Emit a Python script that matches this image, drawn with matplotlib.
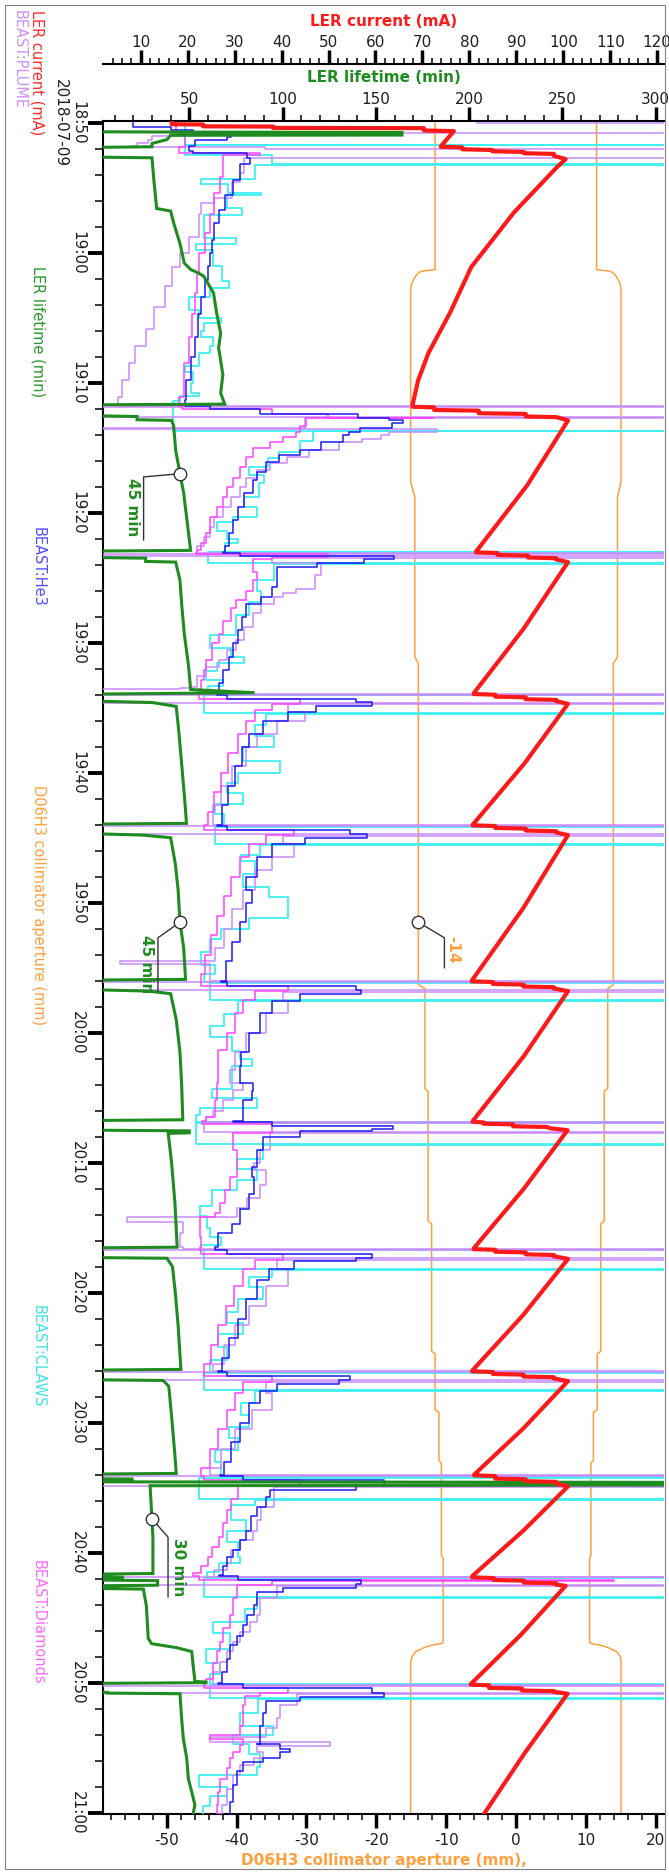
import matplotlib
matplotlib.use("Agg")
import matplotlib.pyplot as plt
from matplotlib.ticker import MultipleLocator
from matplotlib.patches import Rectangle

plt.rcParams['font.family'] = ['DejaVu Sans']
plt.rcParams['axes.unicode_minus'] = False

# ------------------------------------------------------------------
# Time axis: minutes after 18:50 on 2018-07-09
# ------------------------------------------------------------------
time_ticks = [0, 10, 20, 30, 40, 50, 60, 70, 80, 90, 100, 110, 120, 130]
time_labels = ["18:50\n2018-07-09", "19:00", "19:10", "19:20", "19:30", "19:40",
               "19:50", "20:00", "20:10", "20:20", "20:30", "20:40", "20:50", "21:00"]

# LER beam current (mA): (minute, mA)
ler_current = [
    (0.00, 16.6), (0.12, 16.6), (0.14, 23.3), (0.28, 23.3), (0.30, 38.2), (0.40, 38.2),
    (0.42, 70.3), (0.60, 70.3), (0.65, 76.7), (1.70, 74.2), (1.85, 73.9), (1.90, 78.5),
    (2.05, 78.5), (2.10, 84.9), (2.20, 84.9), (2.25, 91.6), (2.35, 91.6), (2.40, 98.0),
    (2.55, 98.0), (2.80, 100.5), (3.40, 98.7), (6.90, 89.5), (11.10, 80.4), (14.60, 75.9),
    (17.70, 71.3), (19.80, 69.1), (21.70, 67.9),
    (21.85, 67.9), (21.90, 72.5), (22.10, 72.5), (22.15, 82.0), (22.35, 82.0), (22.40, 92.0),
    (22.60, 92.0), (22.65, 98.5), (22.90, 101.0), (27.90, 92.3), (33.00, 81.4),
    (33.05, 81.4), (33.10, 86.0), (33.25, 86.0), (33.30, 92.5), (33.45, 92.5), (33.50, 98.5),
    (33.60, 98.5), (33.80, 101.0), (38.90, 91.6), (43.90, 80.9),
    (43.95, 80.9), (44.00, 85.5), (44.15, 85.5), (44.20, 92.0), (44.35, 92.0), (44.40, 98.5),
    (44.50, 98.5), (44.70, 101.0), (49.30, 91.7), (54.00, 80.7),
    (54.05, 80.7), (54.10, 85.5), (54.25, 85.5), (54.30, 92.0), (54.45, 92.0), (54.50, 98.5),
    (54.60, 98.5), (54.80, 101.0), (60.40, 91.5), (66.00, 80.5),
    (66.05, 80.5), (66.10, 85.0), (66.25, 85.0), (66.30, 91.5), (66.45, 91.5), (66.50, 98.0),
    (66.60, 98.0), (66.80, 101.0), (71.80, 91.6), (76.80, 80.7),
    (76.85, 80.7), (76.90, 83.0), (77.00, 83.0), (77.05, 89.3), (77.20, 89.3), (77.25, 96.5),
    (77.35, 97.2), (77.50, 100.9), (82.00, 91.6), (86.60, 80.9),
    (86.65, 80.9), (86.70, 85.5), (86.85, 85.5), (86.90, 92.0), (87.05, 92.0), (87.10, 98.0),
    (87.20, 98.0), (87.40, 101.0), (91.70, 91.5), (96.00, 80.6),
    (96.05, 80.6), (96.10, 85.0), (96.25, 85.0), (96.30, 91.5), (96.45, 91.5), (96.50, 98.0),
    (96.60, 98.0), (96.80, 101.0), (100.40, 91.6), (104.00, 81.0),
    (104.05, 81.0), (104.10, 85.5), (104.30, 85.5), (104.35, 92.0), (104.50, 92.0), (104.55, 98.5),
    (104.70, 98.5), (104.90, 101.0), (108.30, 91.5), (111.80, 80.6),
    (111.90, 80.6), (111.95, 85.2), (112.10, 85.2), (112.15, 91.6), (112.30, 91.6), (112.35, 98.4),
    (112.45, 98.4), (112.55, 100.5), (116.30, 91.0), (120.10, 80.3),
    (120.15, 80.3), (120.20, 84.2), (120.40, 84.2), (120.45, 91.2), (120.60, 91.2), (120.65, 98.0),
    (120.70, 98.0), (120.85, 100.9), (125.40, 91.8), (130.10, 83.1),
]

# LER beam lifetime (min): (minute, min)
ler_lifetime = [
    (0.0, 0), (0.7, 0), (0.72, 43), (0.75, 164), (0.95, 164), (0.97, 40), (1.3, 38), (1.6, 30),
    (1.85, 30), (1.9, 0), (2.65, 0), (2.7, 30), (4.4, 31), (6.6, 32.5), (6.8, 40), (7.7, 41.6),
    (9.3, 45), (10.8, 47.3), (11.3, 50.8), (11.5, 54), (11.8, 57.7), (13.1, 63), (14.6, 64.6),
    (16.2, 66.8), (17.3, 65.7), (19.4, 68), (20.8, 66.8), (21.65, 69), (21.7, 0),
    (22.55, 0), (22.6, 22), (22.85, 22), (22.9, 40.5), (23.3, 41.6), (25.2, 42.7), (27.0, 45),
    (28.5, 47), (30.3, 48.5), (31.6, 49.6), (32.9, 50.7), (32.95, 0),
    (33.45, 0), (33.5, 26.6), (33.75, 26.6), (33.8, 42.7), (35.2, 45), (37.2, 46), (39.3, 47.3),
    (41.8, 49.6), (43.6, 50.7), (43.85, 85), (43.95, 0),
    (44.5, 0), (44.6, 30), (44.9, 43), (47.0, 44.5), (49.5, 46), (52.0, 47.5), (53.9, 48.5), (53.95, 0),
    (54.7, 0), (54.8, 25), (55.0, 40), (57.0, 42.5), (59.0, 44), (61.5, 45), (63.5, 47), (65.9, 48), (65.95, 0),
    (66.7, 0), (66.8, 28), (67.0, 40), (69.0, 43), (71.5, 45), (74.0, 45.9), (76.5, 46.5), (76.7, 46.5), (76.75, 0),
    (77.5, 0), (77.55, 50), (77.7, 50), (77.75, 38.7), (80.0, 40.5), (83.1, 42.3), (85.7, 43.2), (86.5, 43.5), (86.55, 0),
    (87.3, 0), (87.35, 38), (88.0, 41), (90.0, 42.5), (92.5, 44), (95.9, 45.5), (95.95, 0),
    (96.7, 0), (96.75, 36), (97.2, 39), (99.5, 40.5), (102.0, 42), (103.9, 43), (103.95, 0),
    (104.3, 0), (104.35, 20), (104.4, 0), (104.55, 0), (104.6, 400), (104.78, 400), (104.85, 29),
    (107.4, 30), (108.8, 30.5), (111.6, 30.5), (111.65, 0),
    (111.85, 0), (111.9, 15), (111.95, 0), (112.1, 0), (112.15, 33), (112.5, 33), (112.55, 0),
    (112.75, 0), (112.8, 25.4), (114.1, 27), (116.6, 28), (117.0, 29.8), (117.3, 43), (117.6, 51.3),
    (118.6, 52), (119.9, 53), (119.95, 59), (120.0, 59), (120.05, 0),
    (120.7, 0), (120.75, 6), (120.8, 6), (120.85, 45), (122.8, 45.9), (124.3, 46.8), (125.8, 48.6),
    (127.4, 49.5), (128.4, 51.3), (129.4, 53), (130.1, 52),
]

# D06H3 collimator jaw positions (mm): (minute, mm)
jaw_inner = [
    (-0.2, -11.6), (11.1, -11.6), (11.3, -11.6), (11.4, -13.2), (11.5, -13.9), (11.8, -14.4),
    (12.35, -14.95), (12.9, -15.1), (27.6, -15.1), (28.8, -14.5), (41.1, -14.5), (41.6, -14.0),
    (66.3, -14.0), (66.6, -13.05), (74.3, -13.05), (74.5, -12.6), (84.5, -12.6), (84.7, -12.1),
    (94.5, -12.1), (94.7, -11.6), (99.0, -11.6), (99.2, -11.05), (102.9, -11.05), (103.1, -10.7),
    (110.2, -10.7), (110.4, -10.45), (116.9, -10.45), (117.0, -10.8), (117.1, -12.0), (117.3, -13.2),
    (117.5, -13.9), (117.6, -14.4), (118.0, -14.9), (118.4, -15.1), (130.3, -15.1),
]
jaw_outer = [
    (-0.2, 11.5), (11.1, 11.5), (11.3, 11.5), (11.4, 13.1), (11.5, 13.8), (11.8, 14.3),
    (12.35, 14.85), (12.9, 15.0), (27.6, 15.0), (28.8, 14.5), (41.1, 14.5), (41.6, 13.9),
    (66.3, 13.9), (66.6, 13.1), (74.3, 13.1), (74.5, 12.6), (84.5, 12.6), (84.7, 12.1),
    (94.5, 12.1), (94.7, 11.6), (99.0, 11.6), (99.2, 11.05), (102.9, 11.05), (103.1, 10.7),
    (110.2, 10.7), (110.4, 10.5), (116.9, 10.5), (117.0, 10.8), (117.1, 12.0), (117.3, 13.2),
    (117.5, 13.9), (117.6, 14.4), (118.0, 14.9), (118.4, 15.0), (130.3, 15.0),
]

# BEAST detector rates, arbitrary units (0-100 full scale): (minute, level from that minute on)
beast_he3 = [
    (0.0, 5.3), (0.3, 12.0), (0.6, 16.0), (0.8, 22.8), (1.1, 22.0), (1.3, 16.4), (1.8, 15.2), (2.2, 16.0),
    (2.3, 25.6), (2.7, 26.2), (3.2, 24.4), (4.4, 23.2), (5.6, 21.7), (6.7, 20.6), (7.7, 19.8), (9.0, 19.4),
    (10.0, 19.0), (11.0, 18.7), (12.1, 18.1), (13.4, 17.5), (14.7, 16.9), (16.5, 16.4), (18.0, 15.6),
    (19.8, 14.8), (21.3, 14.6),
    (21.8, 19.0), (22.0, 28.0), (22.4, 45.4), (22.7, 51.0), (22.9, 53.5), (23.1, 51.5), (23.5, 45.8),
    (23.8, 43.8), (24.0, 42.8), (24.6, 38.8), (25.2, 35.1), (25.6, 31.3), (26.1, 29.0), (26.9, 27.4),
    (27.5, 26.7), (28.5, 25.1), (29.6, 24.0), (30.6, 23.2), (31.6, 22.4), (32.6, 21.7), (33.0, 21.3),
    (33.1, 24.4), (33.3, 51.8), (33.6, 46.5), (33.9, 38.2), (34.2, 30.9), (35.7, 30.1), (36.5, 28.2),
    (37.0, 25.5), (38.0, 24.8), (39.0, 24.0), (40.0, 23.2), (41.1, 22.4), (42.1, 21.3), (43.1, 20.6), (43.8, 20.2),
    (44.0, 22.0), (44.3, 45.0), (44.6, 48.0), (44.9, 38.0), (45.3, 33.0), (46.0, 28.5), (47.0, 26.0),
    (48.0, 24.8), (49.5, 23.5), (51.0, 22.3), (52.5, 21.2), (54.0, 20.3),
    (54.1, 22.0), (54.4, 44.0), (54.7, 47.0), (55.0, 36.0), (55.5, 30.0), (56.5, 27.5), (58.0, 25.5),
    (59.0, 26.5), (60.0, 25.5), (61.5, 24.3), (63.0, 23.0), (64.5, 21.8), (66.0, 21.0),
    (66.1, 22.0), (66.4, 45.0), (66.7, 46.0), (67.0, 35.0), (67.6, 30.0), (68.5, 28.0), (70.0, 26.0),
    (71.5, 24.6), (72.6, 24.4), (73.9, 26.7), (74.5, 26.5), (75.2, 25.0), (76.8, 23.2),
    (76.9, 30.0), (77.2, 51.7), (77.4, 48.0), (77.6, 35.0), (78.0, 28.5), (79.0, 27.4), (80.3, 26.5),
    (81.1, 26.8), (82.4, 25.9), (83.6, 24.4), (84.7, 22.9), (85.4, 20.5), (86.5, 19.9),
    (86.7, 22.0), (87.0, 48.0), (87.3, 45.0), (87.6, 34.0), (88.2, 29.5), (89.0, 27.5), (90.5, 25.5),
    (92.0, 24.0), (93.5, 22.5), (95.0, 21.2), (96.0, 20.5),
    (96.1, 22.0), (96.4, 44.0), (96.7, 42.0), (97.0, 31.0), (97.6, 28.0), (98.5, 26.0), (100.0, 24.3),
    (101.5, 22.8), (103.0, 21.5), (104.0, 20.8),
    (104.1, 25.0), (104.4, 50.0), (104.8, 45.0), (105.2, 29.7), (105.7, 29.0), (106.5, 27.4), (107.2, 26.3),
    (108.3, 25.5), (109.0, 24.4), (109.8, 23.2), (110.3, 22.1), (111.0, 21.3), (111.7, 20.6),
    (111.8, 24.0), (112.1, 46.0), (112.4, 45.0), (112.7, 32.0), (113.0, 27.4), (114.0, 26.8), (114.8, 25.6),
    (115.6, 25.0), (116.4, 23.8), (117.1, 22.6), (118.2, 22.0), (119.2, 21.1), (120.0, 20.5),
    (120.1, 25.0), (120.4, 48.0), (120.8, 50.0), (121.1, 35.0), (121.4, 29.1), (122.3, 28.5), (123.3, 27.9),
    (124.7, 27.4), (124.75, 31.5), (125.1, 33.3), (125.3, 31.5), (125.8, 28.5), (126.1, 25.0), (126.8, 23.8),
    (127.9, 23.2), (129.2, 22.6), (130.1, 22.9),
]

beast_diamonds = [
    (0.0, 13.0), (0.8, 14.6), (1.9, 13.5), (2.3, 28.0), (2.45, 21.3), (4.2, 20.9), (5.4, 19.8), (7.0, 19.0),
    (8.5, 18.1), (10.0, 17.1), (11.6, 16.7), (13.1, 16.4), (14.7, 15.8), (16.5, 15.2), (18.5, 14.4),
    (21.1, 13.5), (21.7, 13.3),
    (21.8, 14.0), (22.0, 30.0), (22.4, 40.0), (22.7, 58.8), (22.75, 36.2), (23.3, 35.0), (23.8, 34.3),
    (24.2, 32.0), (24.6, 29.7), (25.0, 26.7), (25.7, 25.5), (26.5, 24.4), (27.3, 23.2), (28.0, 22.1),
    (28.8, 21.3), (29.6, 20.2), (30.3, 19.0), (31.6, 18.3), (32.3, 17.5), (32.9, 16.7),
    (33.0, 16.5), (33.2, 40.0), (33.4, 30.0), (33.6, 26.7), (34.6, 27.4), (35.2, 26.7), (36.0, 25.5),
    (36.7, 23.6), (37.3, 22.8), (38.3, 21.3), (39.3, 20.6), (40.0, 19.4), (41.3, 18.3), (42.1, 17.9),
    (42.9, 17.5), (43.6, 17.1),
    (44.0, 17.0), (44.3, 35.0), (44.7, 30.0), (45.2, 27.0), (46.0, 25.5), (47.0, 24.0), (48.5, 22.3),
    (50.0, 21.0), (51.5, 19.8), (53.0, 18.6), (54.0, 18.0),
    (54.4, 34.0), (54.8, 29.0), (55.5, 26.0), (56.5, 24.3), (58.0, 22.7), (59.5, 21.5), (61.0, 20.3),
    (62.5, 19.2), (64.0, 18.2), (65.5, 17.4),
    (66.1, 17.5), (66.4, 33.0), (66.8, 27.0), (67.5, 25.0), (68.5, 23.5), (70.0, 22.0), (71.3, 20.5),
    (73.9, 20.2), (75.2, 19.9), (76.5, 18.4), (76.8, 17.6),
    (77.0, 30.0), (77.7, 23.2), (79.0, 23.8), (81.1, 22.6), (82.1, 21.7), (83.1, 20.8), (83.9, 19.9),
    (84.2, 17.2), (85.7, 17.5), (86.5, 17.2),
    (86.7, 17.5), (87.0, 32.0), (87.5, 27.0), (88.2, 25.0), (89.5, 23.3), (91.0, 21.8), (92.5, 20.5),
    (94.0, 19.2), (95.5, 18.0),
    (96.4, 30.0), (96.9, 25.0), (97.7, 23.5), (99.0, 22.0), (100.5, 20.5), (102.0, 19.0), (103.5, 17.5),
    (104.1, 18.0), (104.4, 35.0), (104.9, 24.0), (105.9, 22.8), (106.7, 22.1), (107.7, 21.3), (108.8, 20.6),
    (109.6, 19.4), (110.3, 18.7), (111.0, 17.5), (111.6, 16.0),
    (111.8, 17.0), (112.1, 91.0), (112.2, 30.0), (112.5, 23.8), (113.5, 23.2), (114.8, 22.6), (115.8, 21.4),
    (116.9, 20.8), (117.6, 20.2), (118.5, 19.6), (119.7, 18.4),
    (120.1, 18.0), (120.4, 33.0), (120.8, 28.0), (121.0, 25.3), (121.7, 25.0), (123.3, 24.4), (124.0, 19.0),
    (124.3, 25.0), (124.8, 24.4), (125.3, 23.2), (125.8, 22.6), (126.6, 22.0), (127.4, 20.8), (128.4, 20.5),
    (129.4, 20.2), (130.1, 20.8),
]

beast_plume = [
    (0.0, 66.6), (0.02, 200), (0.77, 14.6), (1.0, 8.6), (1.3, 8.0), (1.6, 6.0), (1.8, 5.4), (1.85, 28.8),
    (2.0, 200), (2.75, 25.1), (3.9, 24.4), (4.6, 22.9), (5.8, 19.7), (6.2, 17.5), (7.0, 17.1), (8.8, 15.2),
    (10.0, 13.7), (11.1, 12.2), (12.6, 11.0), (14.2, 9.1), (15.9, 7.6), (17.2, 5.7), (18.5, 4.5),
    (19.8, 3.3), (21.1, 2.6),
    (21.8, 200), (21.85, -5), (22.65, 200), (22.7, 36.0), (23.45, -5), (23.55, 59.5), (23.8, 51.0),
    (24.0, 49.6), (24.3, 46.1), (24.6, 42.0), (25.2, 36.6), (25.7, 32.8), (26.2, 29.7), (26.7, 27.4),
    (27.3, 25.5), (28.0, 24.4), (28.8, 22.8), (29.6, 21.3), (30.3, 19.8), (31.1, 19.0), (31.9, 17.9), (32.6, 16.7),
    (33.1, 200), (33.15, -5), (33.35, 200), (33.45, 30.0), (33.9, 38.8), (34.8, 37.8), (35.9, 34.3),
    (36.2, 32.0), (36.5, 30.4), (37.0, 28.2), (37.7, 26.7), (38.8, 25.1), (39.8, 23.6), (40.6, 22.1),
    (41.3, 20.6), (41.9, 18.3), (42.6, 16.7), (43.4, 15.2), (43.5, 13.7), (43.55, -5),
    (43.95, 200), (44.0, -5), (44.65, 200), (44.75, 33.0), (45.3, 36.0), (46.0, 31.0), (47.0, 27.5),
    (48.0, 25.5), (49.5, 23.0), (51.0, 21.0), (52.5, 19.5),
    (54.05, 200), (54.1, -5), (54.75, 200), (54.85, 32.0), (55.5, 34.0), (56.5, 30.0), (57.5, 27.0),
    (59.0, 25.0), (60.5, 23.0), (62.0, 21.5), (63.5, 20.0), (64.45, 3.0), (64.75, 19.0),
    (66.05, 200), (66.1, -5), (66.75, 200), (66.85, 32.0), (67.5, 33.0), (68.5, 29.0), (70.0, 25.5),
    (71.5, 23.5), (72.9, 22.6), (73.9, 25.0), (74.4, 23.1), (75.2, 21.4), (76.0, 19.6), (76.5, 18.4),
    (76.85, 200), (76.95, 18.0), (77.65, 200), (77.75, 29.7), (79.0, 27.9), (80.0, 26.8), (80.6, 29.1),
    (81.7, 27.9), (82.7, 25.6), (83.5, 23.8), (84.2, 4.2), (84.6, 14.3), (85.4, 13.7), (86.5, 14.3),
    (86.65, 200), (86.7, -5), (87.35, 200), (87.45, 31.0), (88.2, 33.0), (89.5, 29.0), (91.0, 26.0),
    (92.5, 23.5), (94.0, 21.5), (95.5, 19.5),
    (96.05, 200), (96.1, -5), (96.75, 200), (96.85, 29.0), (97.7, 30.0), (99.0, 26.5), (100.5, 23.5),
    (102.0, 21.0), (103.5, 19.0),
    (104.05, 200), (104.1, -5), (104.85, 200), (104.95, 30.4), (106.5, 28.2), (107.5, 27.4), (108.3, 26.7),
    (109.0, 24.4), (109.8, 22.8), (110.8, 22.1), (111.3, 19.8),
    (111.85, 200), (111.9, -5), (112.5, 200), (112.6, 30.9), (113.5, 27.9), (114.8, 27.4), (115.3, 26.2),
    (116.1, 24.4), (116.9, 23.2), (117.6, 22.0), (118.4, 20.8), (119.2, 19.6),
    (120.15, 200), (120.25, -5), (120.8, 200), (120.9, 34.5), (121.7, 31.5), (122.7, 30.9), (123.5, 29.1),
    (124.2, 19.0), (124.6, 40.4), (124.9, 27.4), (125.3, 28.5), (125.8, 26.8), (126.3, 24.4), (127.1, 23.2),
    (128.2, 22.0), (129.4, 21.1), (130.1, 20.8),
]

beast_claws = [
    (0.0, 14.6), (1.7, 200), (1.75, 14.6), (2.5, 30.0), (3.2, 200), (3.25, 27.1), (4.3, 17.5), (4.7, 22.3),
    (5.4, 28.1), (5.6, 22.0), (6.6, 24.7), (7.1, 17.9), (8.9, 23.6), (9.3, 16.5), (9.8, 19.5), (11.0, 21.1),
    (12.2, 22.4), (12.7, 19.0), (13.4, 15.2), (14.4, 17.1), (15.0, 21.0), (15.4, 18.0), (16.0, 17.5),
    (16.5, 19.5), (17.2, 19.0), (17.7, 17.0), (18.7, 14.5), (19.2, 16.0), (20.0, 15.6), (20.8, 17.0),
    (21.0, 13.7), (21.4, 12.5),
    (23.7, 200), (23.75, 37.4), (24.5, 35.1), (25.3, 31.3), (25.8, 29.4), (26.5, 25.9), (27.1, 28.6),
    (27.7, 27.8), (28.8, 25.1), (29.6, 27.4), (30.3, 23.2), (30.7, 20.2), (31.4, 22.1), (32.0, 24.0), (32.3, 21.7),
    (33.0, 200), (33.05, 18.7), (33.9, 200), (33.95, 30.4), (35.2, 27.4), (36.0, 28.2), (36.9, 25.9),
    (37.9, 23.6), (39.4, 19.0), (40.4, 22.8), (41.1, 25.1), (41.6, 20.2), (42.2, 18.3), (42.9, 21.3), (43.3, 18.7),
    (44.0, 200), (44.05, 18.0), (45.4, 200), (45.45, 29.0), (46.3, 27.0), (47.2, 30.5), (48.0, 25.0),
    (49.1, 31.5), (50.0, 24.0), (50.8, 22.0), (51.6, 25.0), (52.4, 20.0), (53.2, 21.5),
    (54.1, 200), (54.15, 20.0), (55.5, 200), (55.55, 28.0), (56.3, 24.5), (56.8, 27.0), (57.8, 25.0),
    (58.8, 29.5), (59.6, 33.0), (61.2, 26.0), (62.0, 21.0), (62.8, 19.0), (63.8, 17.5), (64.8, 20.0), (65.5, 18.0),
    (66.1, 200), (66.15, 19.0), (67.5, 200), (67.55, 24.0), (68.6, 21.5), (69.5, 19.0), (70.3, 23.0),
    (71.4, 24.4), (72.0, 26.5), (72.6, 23.0), (74.3, 19.3), (75.0, 27.4), (75.8, 17.2), (76.3, 16.5),
    (76.9, 200), (76.95, 16.5), (78.6, 200), (78.65, 28.5), (79.7, 23.8), (80.5, 27.4), (81.3, 23.8),
    (82.1, 19.3), (83.3, 17.2), (84.1, 18.5), (85.0, 19.0), (85.7, 21.0), (86.3, 17.5),
    (86.7, 200), (86.75, 18.0), (88.2, 200), (88.25, 30.0), (88.8, 26.0), (89.6, 28.5), (90.5, 24.0),
    (91.5, 22.0), (92.3, 25.0), (93.2, 20.5), (94.2, 22.0), (95.2, 19.0),
    (96.1, 200), (96.15, 18.0), (97.5, 200), (97.55, 27.0), (98.5, 24.5), (99.4, 26.0), (100.3, 22.5),
    (101.2, 24.0), (102.1, 20.0), (103.0, 21.0),
    (104.2, 200), (104.25, 17.0), (105.9, 200), (105.95, 27.0), (106.3, 22.8), (107.5, 25.5), (108.3, 22.0),
    (109.2, 24.0), (110.3, 24.4), (110.8, 20.6), (111.5, 18.5),
    (111.9, 200), (111.95, 18.0), (113.4, 200), (113.45, 27.4), (114.3, 25.3), (115.3, 19.6), (116.2, 22.6),
    (117.4, 18.4), (118.5, 20.8), (119.3, 19.0),
    (120.1, 200), (120.15, 19.0), (121.2, 200), (121.25, 27.6), (122.3, 24.4), (123.3, 30.3), (124.0, 23.2),
    (124.7, 26.0), (125.5, 28.0), (126.5, 27.4), (127.1, 17.0), (128.0, 22.0), (128.7, 19.0), (129.5, 17.8),
    (130.1, 17.8),
]

# Annotated readings
lifetime_marks = [(27.0, 45, "45 min"), (61.5, 45, "45 min"), (107.4, 30, "30 min")]
aperture_mark = (61.5, -14.0, "-14")

# ------------------------------------------------------------------
C_RED = '#ff1a1a'
C_GREEN = '#1f8c1f'
C_ORANGE = '#ffa040'
C_BLUE = '#1c1cf0'
C_VIOLET = '#c98cff'
C_MAGENTA = '#ff44ff'
C_CYAN = '#3ff0f0'
C_TEXT = '#1e1e1e'

W, H = 669, 1872
fig = plt.figure(figsize=(W / 100, H / 100), dpi=100)


def fx(x):
    return x / W


def fy(y):
    return 1 - y / H


def cols(pairs):
    t, v = zip(*pairs)
    return list(v), list(t)


ax = fig.add_axes([fx(103.3), fy(1814), fx(664) - fx(103.3), fy(121) - fy(1814)])
ax.set_xlim(-59.07, 21.15)
ax.set_ylim(130.1, -0.13)

ax_b = ax.twiny()
ax_b.set_xlim(0, 100)
ax_b.set_axis_off()

ax_life = ax.twiny()
ax_life.set_xlim(3.91, 304.4)

ax_cur = ax.twiny()
ax_cur.set_xlim(2.04, 121.44)

# spines
for s in ['top', 'right']:
    ax.spines[s].set_visible(False)
for s in ['left', 'bottom']:
    ax.spines[s].set_linewidth(1.5)
for a in (ax_life, ax_cur):
    for s in ['left', 'right', 'bottom']:
        a.spines[s].set_visible(False)
    a.spines['top'].set_linewidth(1.5)
ax_cur.spines['top'].set_position(('outward', 41))

# bottom axis: collimator aperture
ax.xaxis.set_major_locator(MultipleLocator(10))
ax.xaxis.set_minor_locator(MultipleLocator(2))
ax.tick_params(axis='x', which='major', direction='out', length=10, width=2.5, pad=4,
               labelsize=11, labelcolor=C_TEXT, bottom=True, top=False)
ax.tick_params(axis='x', which='minor', direction='out', length=4.5, width=1.1, bottom=True, top=False)

# left axis: time
ax.set_yticks(time_ticks)
ax.set_yticklabels(time_labels)
ax.yaxis.set_minor_locator(MultipleLocator(2))
ax.tick_params(axis='y', which='major', direction='out', length=11, width=2.8, pad=2,
               labelsize=11, labelcolor=C_TEXT)
ax.tick_params(axis='y', which='minor', direction='out', length=6, width=1.1)
for lab in ax.get_yticklabels():
    lab.set_rotation(-90)
    lab.set_va('center')
    lab.set_ha('right')
    lab.set_multialignment('center')

# top axes
ax_life.xaxis.set_major_locator(MultipleLocator(50))
ax_life.xaxis.set_minor_locator(MultipleLocator(10))
ax_cur.xaxis.set_major_locator(MultipleLocator(10))
ax_cur.xaxis.set_minor_locator(MultipleLocator(2))
for a in (ax_life, ax_cur):
    a.tick_params(axis='x', which='major', direction='out', length=10, width=2.5, pad=0,
                  labelsize=11, labelcolor=C_TEXT, top=True, bottom=False)
    a.tick_params(axis='x', which='minor', direction='out', length=4.2, width=1.1, top=True, bottom=False)

# collimator jaws
ax.plot(*cols(jaw_inner), color=C_ORANGE, lw=1.1)
ax.plot(*cols(jaw_outer), color=C_ORANGE, lw=1.1)

# BEAST detectors
ax_b.plot(*cols(beast_claws), color=C_CYAN, lw=1.3, drawstyle='steps-pre')
ax_b.plot(*cols(beast_plume), color=C_VIOLET, lw=1.1, drawstyle='steps-pre')
ax_b.plot(*cols(beast_diamonds), color=C_MAGENTA, lw=1.1, drawstyle='steps-pre')
ax_b.plot(*cols(beast_he3), color=C_BLUE, lw=1.1, drawstyle='steps-pre')

# lifetime and current
ax_life.plot(*cols(ler_lifetime), color=C_GREEN, lw=2.2, solid_joinstyle='miter')
ax_cur.plot(*cols(ler_current), color=C_RED, lw=3.0)

# annotations
ann_style = dict(color='#333333', lw=1.0, zorder=5)
mk_style = dict(marker='o', ms=9, mfc='white', mec='#333333', mew=1.0, zorder=6, ls='none')
txt_style = dict(rotation=-90, fontweight='bold', fontsize=11, ha='center', va='center', zorder=7)

t0, v0, s0 = lifetime_marks[0]
ax_life.plot([v0, v0 - 19.5, v0 - 19.5], [t0, t0 + 0.25, t0 + 5.1], **ann_style)
ax_life.plot(v0, t0, **mk_style)
ax_life.text(v0 - 25.2, t0 + 2.6, s0, color=C_GREEN, **txt_style)

t1, v1, s1 = lifetime_marks[1]
ax_life.plot([v1, v1 - 11.8, v1 - 11.8], [t1, t1 + 1.2, t1 + 5.3], **ann_style)
ax_life.plot(v1, t1, **mk_style)
ax_life.text(v1 - 17.7, t1 + 3.2, s1, color=C_GREEN, **txt_style)

t2, v2, s2 = lifetime_marks[2]
ax_life.plot([v2, v2 + 8.6, v2 + 8.6], [t2, t2 + 1.4, t2 + 6.0], **ann_style)
ax_life.plot(v2, t2, **mk_style)
ax_life.text(v2 + 14.0, t2 + 3.7, s2, color=C_GREEN, **txt_style)

ta, va, sa = aperture_mark
ax.plot([va, va + 3.73, va + 3.73], [ta, ta + 1.2, ta + 3.5], **ann_style)
ax.plot(va, ta, **mk_style)
ax.text(va + 4.93, ta + 2.1, sa, color=C_ORANGE, **txt_style)

# axis titles
fig.text(fx(383.7), fy(22), "LER current (mA)", color=C_RED, fontweight='bold',
         fontsize=11, ha='center', va='center')
fig.text(fx(383.7), fy(77), "LER lifetime (min)", color=C_GREEN, fontweight='bold',
         fontsize=11, ha='center', va='center')
fig.text(fx(383.7), fy(1860), "D06H3 collimator aperture (mm),", color=C_ORANGE, fontweight='bold',
         fontsize=11, ha='center', va='center')

# series legend down the left margin
side = dict(rotation=-90, ha='center', fontsize=10.5)
fig.text(fx(19), fy(10), "BEAST:PLUME", color='#cc90ff', va='top', **side)
fig.text(fx(37), fy(10), "LER current (mA)", color='#ff2a2a', va='top', **side)
fig.text(fx(38), fy(332), "LER lifetime (min)", color='#2a962a', va='center', **side)
fig.text(fx(38), fy(567), "BEAST:He3", color='#4f4fff', va='center', **side)
fig.text(fx(38), fy(905), "D06H3 collimator aperture (mm)", color='#ffa040', va='center', **side)
fig.text(fx(38), fy(1356), "BEAST:CLAWS", color='#3fe3e3', va='center', **side)
fig.text(fx(38), fy(1622), "BEAST:Diamonds", color='#ff6aff', va='center', **side)

# frame around the figure
fig.add_artist(Rectangle((fx(5), fy(1869)), fx(665) - fx(5), fy(5) - fy(1869),
                         transform=fig.transFigure, fill=False, ec='#808080', lw=0.8))

fig.savefig('out.png', dpi=100)
